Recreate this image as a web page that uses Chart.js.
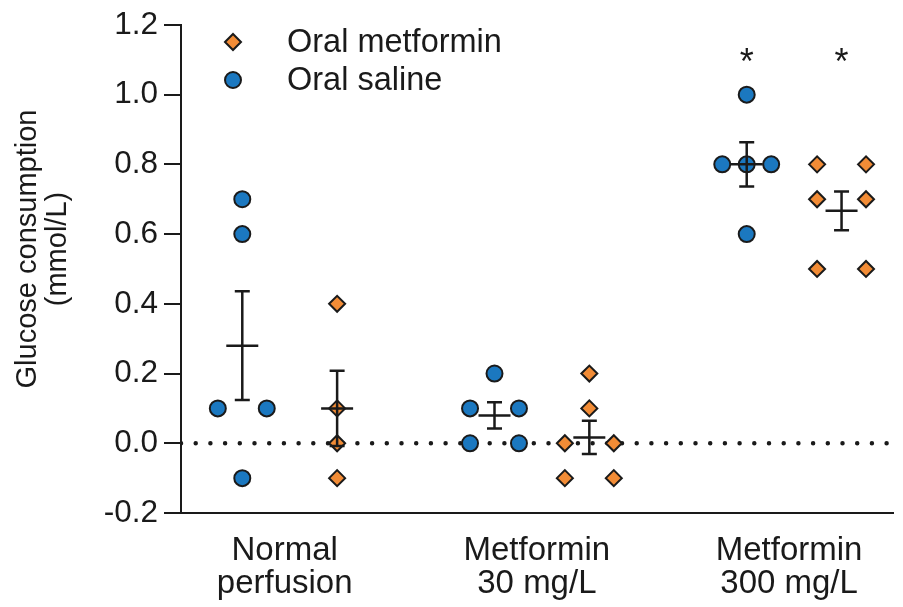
<!DOCTYPE html>
<html>
<head>
<meta charset="utf-8">
<script src="https://cdn.jsdelivr.net/npm/chart.js@4/dist/chart.umd.min.js"></script>
<style>
  html, body { margin: 0; padding: 0; background: #ffffff; }
  #wrap { width: 903px; height: 607px; position: relative; }
</style>
</head>
<body>
<div id="wrap"><canvas id="c" width="903" height="607"></canvas></div>
<script>
// ---------- data ----------
const categories = [["Normal", "perfusion"], ["Metformin", "30 mg/L"], ["Metformin", "300 mg/L"]];
const salineValues = [
  [0.7, 0.6, 0.1, 0.1, -0.1],
  [0.2, 0.1, 0.1, 0.0, 0.0],
  [1.0, 0.8, 0.8, 0.8, 0.6]
];
const metforminValues = [
  [0.4, 0.1, 0.0, -0.1],
  [0.2, 0.1, 0.0, 0.0, -0.1, -0.1],
  [0.8, 0.8, 0.7, 0.7, 0.5, 0.5]
];
const salineSignificance = ["", "", "*"];
const metforminSignificance = ["", "", "*"];
const seriesNames = ["Oral metformin", "Oral saline"];
const yAxisTitle = ["Glucose consumption", "(mmol/L)"];
const yMin = -0.2, yMax = 1.2, yStep = 0.2;

// ---------- layout constants ----------
const FONT = "'Liberation Sans', Arial, Helvetica, sans-serif";
const INK = '#1a1a1a';
const BLUE = '#1b78c0';
const ORANGE = '#f28c36';
const GROUP_OFFSET = 0.376;   // metformin column offset from saline column
const JITTER = 0.097;         // horizontal step for repeated values
const LABEL_OFFSET = 0.168;   // x-tick label position inside a group
const X_MIN = -0.243, X_MAX = 2.58;

function jitterOffsets(k) {
  if (k === 1) return [0];
  if (k === 2) return [-1, 1];
  const arr = [];
  for (let i = 0; i < k; i++) arr.push(i - (k - 1) / 2);
  return arr;
}
function buildPoints(groups, shift) {
  const pts = [];
  groups.forEach((vals, g) => {
    const counts = {};
    vals.forEach(v => { const key = v.toFixed(3); counts[key] = (counts[key] || 0) + 1; });
    const used = {};
    vals.forEach(v => {
      const key = v.toFixed(3);
      const offs = jitterOffsets(counts[key]);
      const i = used[key] || 0; used[key] = i + 1;
      pts.push({ x: g + shift + offs[i] * JITTER, y: v });
    });
  });
  return pts;
}
function stats(vals) {
  const n = vals.length;
  const m = vals.reduce((a, b) => a + b, 0) / n;
  const sd = Math.sqrt(vals.reduce((a, b) => a + (b - m) * (b - m), 0) / (n - 1));
  return { mean: m, sem: sd / Math.sqrt(n) };
}

const summaryPlugin = {
  id: 'summary',
  afterDatasetsDraw(chart) {
    const ctx = chart.ctx;
    const xs = chart.scales.x, ys = chart.scales.y;
    const drawBars = (groups, shift, sig) => {
      groups.forEach((vals, g) => {
        const s = stats(vals);
        const cx = xs.getPixelForValue(g + shift);
        const ym = ys.getPixelForValue(s.mean);
        const yt = ys.getPixelForValue(s.mean + s.sem);
        const yb = ys.getPixelForValue(s.mean - s.sem);
        ctx.save();
        ctx.strokeStyle = INK;
        ctx.lineWidth = 2.5;
        ctx.lineCap = 'butt';
        ctx.beginPath();
        ctx.moveTo(cx - 16, ym); ctx.lineTo(cx + 16, ym);
        ctx.moveTo(cx, yt); ctx.lineTo(cx, yb);
        ctx.moveTo(cx - 7.5, yt); ctx.lineTo(cx + 7.5, yt);
        ctx.moveTo(cx - 7.5, yb); ctx.lineTo(cx + 7.5, yb);
        ctx.stroke();
        if (sig[g]) {
          ctx.fillStyle = INK;
          ctx.font = '36px ' + FONT;
          ctx.textAlign = 'center';
          ctx.textBaseline = 'alphabetic';
          ctx.fillText(sig[g], cx, ys.getPixelForValue(1.06));
        }
        ctx.restore();
      });
    };
    drawBars(salineValues, 0, salineSignificance);
    drawBars(metforminValues, GROUP_OFFSET, metforminSignificance);
  },
  afterDraw(chart) {
    const ctx = chart.ctx;
    // legend (inside plot area)
    const items = [
      { text: seriesNames[0], ds: chart.data.datasets[1] },
      { text: seriesNames[1], ds: chart.data.datasets[0] }
    ];
    items.forEach((it, i) => {
      const y = 42 + i * 38;
      const x = 233;
      ctx.save();
      ctx.fillStyle = it.ds.backgroundColor;
      ctx.strokeStyle = it.ds.borderColor;
      ctx.lineWidth = it.ds.borderWidth;
      Chart.helpers.drawPoint(ctx, { pointStyle: it.ds.pointStyle, radius: it.ds.pointRadius, borderWidth: it.ds.borderWidth, rotation: 0 }, x, y);
      ctx.fillStyle = INK;
      ctx.font = '32.5px ' + FONT;
      ctx.textAlign = 'left';
      ctx.textBaseline = 'middle';
      ctx.fillText(it.text, 287, y + 1);
      ctx.restore();
    });
    // y-axis title
    ctx.save();
    ctx.fillStyle = INK;
    ctx.font = '29px ' + FONT;
    ctx.textAlign = 'center';
    ctx.textBaseline = 'middle';
    ctx.translate(0, 249);
    ctx.rotate(-Math.PI / 2);
    ctx.fillText(yAxisTitle[0], 0, 28);
    ctx.fillText(yAxisTitle[1], 0, 58);
    ctx.restore();
  }
};

const salinePts = buildPoints(salineValues, 0);
const metforminPts = buildPoints(metforminValues, GROUP_OFFSET);

new Chart(document.getElementById('c'), {
  type: 'scatter',
  data: {
    datasets: [
      {
        label: seriesNames[1], data: salinePts,
        pointStyle: 'circle', pointRadius: 8, pointHoverRadius: 8,
        backgroundColor: BLUE, borderColor: INK, borderWidth: 2, order: 2
      },
      {
        label: seriesNames[0], data: metforminPts,
        pointStyle: 'rectRot', pointRadius: 8, pointHoverRadius: 8,
        backgroundColor: ORANGE, borderColor: INK, borderWidth: 2, order: 1
      },
      {
        type: 'line', label: 'zero', data: [{ x: X_MIN, y: 0 }, { x: X_MAX, y: 0 }],
        borderColor: INK, borderWidth: 4.5, borderDash: [0, 14.7], borderCapStyle: 'round',
        pointRadius: 0, fill: false, order: 10
      }
    ]
  },
  options: {
    responsive: false,
    animation: false,
    events: [],
    layout: { padding: { left: 0, right: 0, top: 21, bottom: 0 } },
    plugins: { legend: { display: false }, tooltip: { enabled: false } },
    scales: {
      x: {
        type: 'linear', min: X_MIN, max: X_MAX,
        afterBuildTicks(scale) {
          scale.ticks = categories.map((c, i) => ({ value: i + LABEL_OFFSET }));
        },
        afterFit(scale) { scale.height = 94; },
        ticks: {
          autoSkip: false, maxRotation: 0, minRotation: 0,
          color: INK, font: { family: FONT, size: 33, lineHeight: 1.0 }, padding: 21,
          callback(value, index) { return categories[index]; }
        },
        grid: { display: false, drawTicks: false },
        border: { display: true, color: INK, width: 2 }
      },
      y: {
        min: yMin, max: yMax,
        afterFit(scale) { scale.width = 181; },
        ticks: {
          stepSize: yStep, color: INK, padding: 6,
          font: { family: FONT, size: 31.5 },
          callback(v) { return (Math.abs(v) < 1e-9 ? 0 : v).toFixed(1); }
        },
        grid: { drawOnChartArea: false, drawTicks: true, tickLength: 17, color: INK, lineWidth: 2 },
        border: { display: true, color: INK, width: 2 }
      }
    }
  },
  plugins: [summaryPlugin]
});
</script>
</body>
</html>
